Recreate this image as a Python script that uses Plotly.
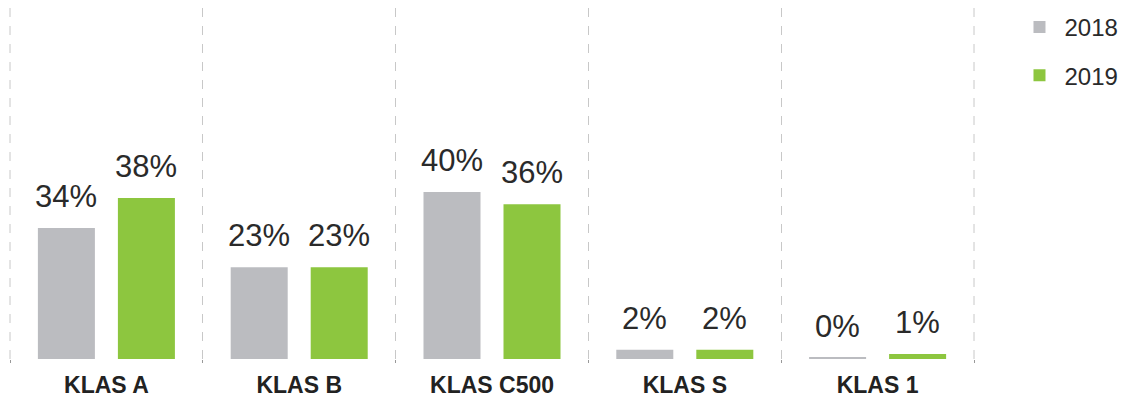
import plotly.graph_objects as go

categories = ["KLAS A", "KLAS B", "KLAS C500", "KLAS S", "KLAS 1"]
series_names = ["2018", "2019"]
values_2018 = [31.4, 22.0, 40.0, 2.2, 0.3]
values_2019 = [38.6, 22.0, 37.1, 2.2, 1.2]
labels_2018 = ["34%", "23%", "40%", "2%", "0%"]
labels_2019 = ["38%", "23%", "36%", "2%", "1%"]
colors = ["#bbbcc0", "#8dc63f"]
FONT = "Liberation Sans, Arial, sans-serif"
GRID = "#c8c8c8"

fig = go.Figure()
for i, (name, vals) in enumerate(zip(series_names, [values_2018, values_2019])):
    fig.add_trace(go.Bar(
        x=categories, y=vals, name=name,
        marker=dict(color=colors[i], line=dict(width=0)),
        legendgroup=name,
        hoverinfo="skip",
    ))

annotations = []
for vals, labs, shift in [(values_2018, labels_2018, -40), (values_2019, labels_2019, 40)]:
    for c, v, t in zip(categories, vals, labs):
        annotations.append(dict(
            x=c, y=v, text=t, showarrow=False, xref="x", yref="y",
            xanchor="center", yanchor="bottom", xshift=shift, yshift=12,
            font=dict(family=FONT, size=31, color="#2a2a2a"),
        ))

shapes = [
    dict(type="line", xref="paper", yref="paper", x0=0, x1=0, y0=0, y1=1,
         line=dict(color=GRID, width=1, dash="dash"), layer="below"),
    dict(type="line", xref="paper", yref="paper", x0=1, x1=1, y0=0, y1=1,
         line=dict(color=GRID, width=1, dash="dash"), layer="below"),
]

fig.update_layout(
    width=1126, height=403,
    margin=dict(l=2, r=160, t=0, b=52, autoexpand=False),
    paper_bgcolor="white", plot_bgcolor="white",
    barmode="group", bargap=0.17, bargroupgap=0.2875,
    annotations=annotations,
    shapes=shapes,
    showlegend=True,
    legend=dict(
        x=1.042, y=1.009, xanchor="left", yanchor="top",
        font=dict(family=FONT, size=24, color="#2a2a2a"),
        tracegroupgap=14, traceorder="grouped", itemwidth=40,
        entrywidth=80,
        bgcolor="rgba(0,0,0,0)",
    ),
    xaxis=dict(
        type="category", tickson="boundaries", automargin=False,
        showgrid=True, gridcolor=GRID, griddash="dash", gridwidth=1,
        ticks="outside", ticklen=3, tickcolor="#999999",
        ticklabelstandoff=10,
        showline=False, zeroline=False,
        tickfont=dict(family=FONT, size=23, color="#222222", weight="bold"),
        range=[-0.5, 4.5],
    ),
    yaxis=dict(
        range=[0, 84.1], automargin=False,
        showticklabels=False, tickvals=[0],
        showgrid=True, gridcolor=GRID, griddash="dash", gridwidth=1,
        zeroline=False, showline=False,
    ),
    font=dict(family=FONT),
)

fig.write_html("out.html")
